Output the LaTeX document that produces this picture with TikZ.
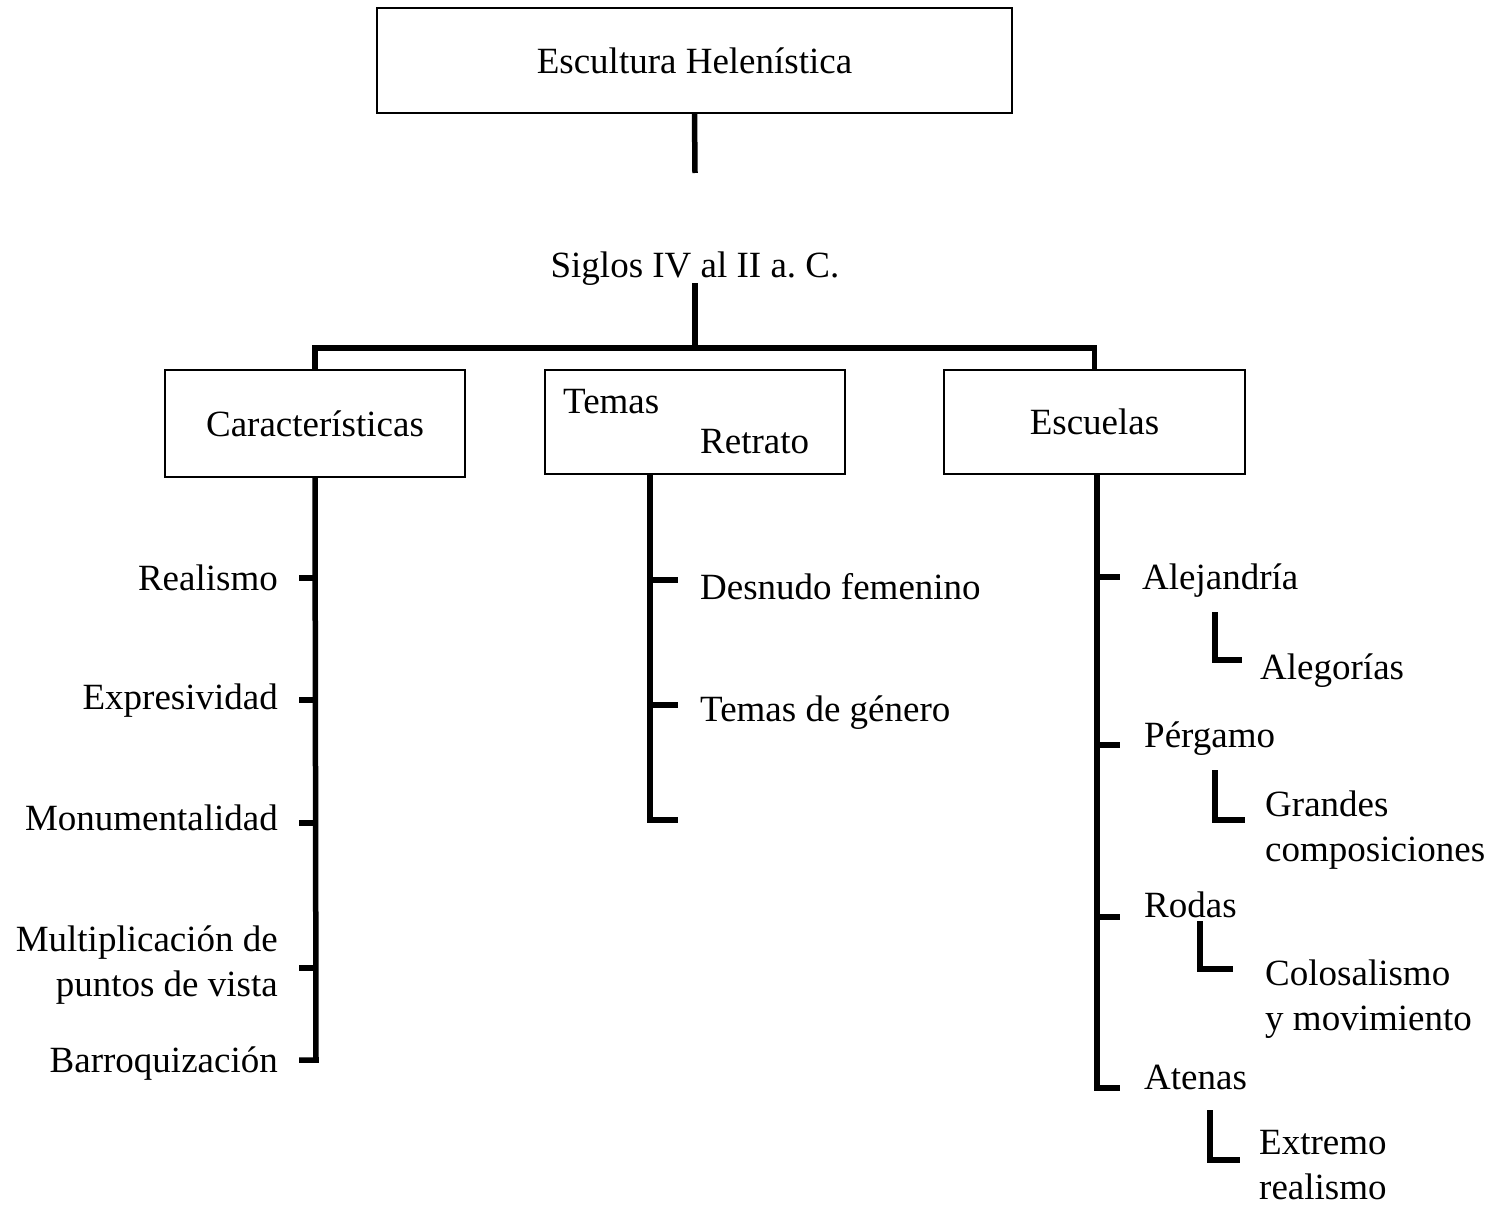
\documentclass[tikz,border=0pt]{standalone}
\usepackage{fontspec}
\setmainfont{Liberation Serif}
\frenchspacing
\begin{document}
\begin{tikzpicture}[x=1pt,y=-1pt,
  box/.style={draw, line width=2pt, inner sep=0pt, font=\fontsize{37}{44}\selectfont},
  lbl/.style={inner sep=0pt, font=\fontsize{37}{45}\selectfont},
  conn/.style={line width=5.5pt},
]
\useasboundingbox[fill=white] (0,0) rectangle (1495,1206);
% boxes
\node[box, minimum width=635, minimum height=105] (top) at (694.5,60.5) {Escultura Helenística};
\node[box, minimum width=300, minimum height=107] (char) at (315,423.5) {Características};
\node[box, minimum width=300, minimum height=104] (temas) at (695,422) {};
\node[box, minimum width=301, minimum height=104] (esc) at (1094.5,422) {Escuelas};
\node[lbl, anchor=mid west] (temasA) at (563,411) {Temas};
\node[lbl, anchor=mid west] (temasB) at (700,451) {Retrato};
\node[lbl] (siglos) at (695,269) {Siglos IV al II a. C.};
% top connectors
\coordinate (topend) at (695,173);
\coordinate (sigtop) at (695,283);
\coordinate (hub) at (695,348);
\draw[conn] (top.south) -- (topend);
\draw[conn] (sigtop) -- (hub);
\draw[conn] (char.north) -- (char.north |- hub) -- (esc.north |- hub) -- (esc.north);
% Caracteristicas
\node[lbl, anchor=mid east] (c1) at (278,588) {Realismo};
\node[lbl, anchor=mid east] (c2) at (278,707) {Expresividad};
\node[lbl, anchor=mid east] (c3) at (278,828) {Monumentalidad};
\node[lbl, anchor=east, align=right] (c4) at (278,965) {Multiplicación de\\puntos de vista\ };
\node[lbl, anchor=mid east] (c5) at (278,1070) {Barroquización};
\coordinate (cs1) at (316,578);
\coordinate (cs2) at (316,700);
\coordinate (cs3) at (316,823);
\coordinate (cs4) at (316,968);
\coordinate (cs5) at (316,1060);
\draw[conn] (char.south) -- (cs5) -- ++(-17,0);
\foreach \i in {1,2,3,4} \draw[conn] (cs\i) -- ++(-17,0);
% Temas
\node[lbl, anchor=mid west] (t1) at (700,597) {Desnudo femenino};
\node[lbl, anchor=mid west] (t2) at (700,719) {Temas de género};
\coordinate (ts1) at (650,580);
\coordinate (ts2) at (650,705);
\coordinate (ts3) at (650,820);
\draw[conn] (temas.south -| ts3) -- (ts3) -- ++(28,0);
\foreach \i in {1,2} \draw[conn] (ts\i) -- ++(28,0);
% Escuelas
\node[lbl, anchor=mid west] (e1) at (1142,587) {Alejandría};
\node[lbl, anchor=mid west] (e2) at (1144,745) {Pérgamo};
\node[lbl, anchor=mid west] (e3) at (1144,915) {Rodas};
\node[lbl, anchor=mid west] (e4) at (1144,1087) {Atenas};
\coordinate (es1) at (1097,577);
\coordinate (es2) at (1097,745);
\coordinate (es3) at (1097,917);
\coordinate (es4) at (1097,1088);
\draw[conn] (esc.south -| es4) -- (es4) -- ++(23,0);
\foreach \i in {1,2,3} \draw[conn] (es\i) -- ++(23,0);
% sub items
\node[lbl, anchor=mid west] (s1) at (1260,677) {Alegorías};
\node[lbl, anchor=west, align=left] (s2) at (1265,830) {Grandes\\composiciones};
\node[lbl, anchor=west, align=left] (s3) at (1265,999) {Colosalismo\\y movimiento};
\node[lbl, anchor=west, align=left] (s4) at (1259,1165) {Extremo\\realismo};
\draw[conn] (1215,612) -- (1215,660) -- (1242,660);
\draw[conn] (1215,770) -- (1215,820) -- (1245,820);
\draw[conn] (1200,921) -- (1200,969) -- (1233,969);
\draw[conn] (1210,1110) -- (1210,1160) -- (1240,1160);
\end{tikzpicture}
\end{document}
